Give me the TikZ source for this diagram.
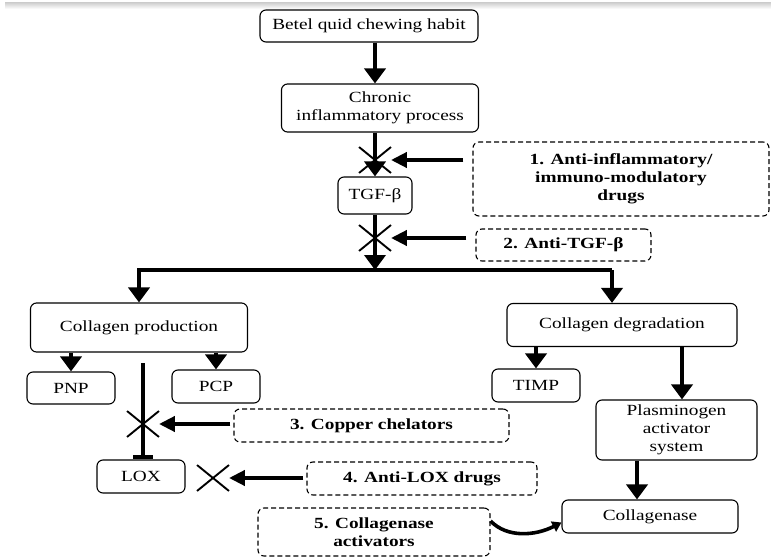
\documentclass[tikz,border=0pt]{standalone}
\usepackage{fontspec}
\setmainfont{Liberation Serif}[FakeStretch=1.245]
\usetikzlibrary{arrows.meta,shapes.misc,calc}
\begin{document}
\begin{tikzpicture}[x=1pt,y=-1pt,
  box/.style={draw, rounded corners=6pt, line width=1.1pt, align=center, inner sep=0pt,
    font=\fontsize{15.5}{18}\selectfont},
  drug/.style={box, dash pattern=on 5pt off 3pt, font=\fontsize{15.5}{18}\selectfont\bfseries},
  arr/.style={line width=4.6pt, -{Triangle[width=21pt,length=15pt]}},
  harr/.style={line width=4pt, -{Triangle[width=15pt,length=16pt]}},
  xmark/.style={cross out, draw, line width=1.9pt, inner sep=0pt, minimum width=30pt, minimum height=24pt},
  tbar/.style={line width=4.6pt, -{Bar[width=20pt]}},
  curvearr/.style={line width=3.6pt, -{Triangle[width=11pt,length=9pt]}}
]
\useasboundingbox (0,0) rectangle (771,559);
\fill[top color=gray!35, bottom color=white] (5,3) rectangle (771,9);

% nodes
\node[box, minimum width=218pt, minimum height=32pt] (betel) at (369,26) {Betel quid chewing habit};
\node[box, minimum width=197pt, minimum height=48pt] (chronic) at (380,108) {Chronic\\inflammatory process};
\node[box, minimum width=74pt, minimum height=37pt] (tgf) at (375,195.5) {TGF-β};
\node[drug, minimum width=296pt, minimum height=74pt] (d1) at (621,179) {1. Anti-inflammatory/\\immuno-modulatory\\drugs};
\node[drug, minimum width=175pt, minimum height=32pt] (d2) at (563.5,245) {2. Anti-TGF-β};
\node[box, minimum width=217pt, minimum height=49pt] (cprod) at (139,327.5) {Collagen production};
\node[box, minimum width=230pt, minimum height=43pt] (cdeg) at (622,325) {Collagen degradation};
\node[box, minimum width=88pt, minimum height=32pt] (pnp) at (71,388) {PNP};
\node[box, minimum width=88pt, minimum height=33pt] (pcp) at (216,386.5) {PCP};
\node[box, minimum width=88pt, minimum height=33pt] (timp) at (536,385.5) {TIMP};
\node[box, minimum width=161pt, minimum height=60pt] (plas) at (676.5,430) {Plasminogen\\activator\\system};
\node[box, minimum width=88pt, minimum height=33pt] (lox) at (141,476.5) {LOX};
\node[drug, minimum width=275pt, minimum height=33pt] (d3) at (371.5,425.5) {3. Copper chelators};
\node[drug, minimum width=230pt, minimum height=33pt] (d4) at (422,478.5) {4. Anti-LOX drugs};
\node[drug, minimum width=232pt, minimum height=48pt] (d5) at (374,532) {5. Collagenase\\activators};
\node[box, minimum width=176pt, minimum height=33pt] (cnase) at (650,516.5) {Collagenase};

% cross marks
\node[xmark] (x1) at (375,160) {};
\node[xmark] (x2) at (375,238) {};
\node[xmark] (x3) at (143,424) {};
\node[xmark] (x4) at (213,478) {};

% helper coordinates
\coordinate (split) at (375,270);
\coordinate (rgt) at (612,270);
\coordinate (tb) at (143,363);
\coordinate (c1) at (682,0);
\coordinate (c2) at (637,0);

% main chain
\draw[arr] (betel.south -| tgf) -- (chronic.north -| tgf);
\draw[arr] (chronic.south -| tgf) -- (tgf.north);
\draw[arr] (tgf.south) -- (split);
\draw[line width=4.6pt] (split) -- (rgt);
\draw[arr] (split) -| (cprod.north);
\draw[arr] (rgt) -- (rgt |- cdeg.north);

% collagen production branch
\draw[arr] (pnp.north |- cprod.south) -- (pnp.north);
\draw[arr] (pcp.north |- cprod.south) -- (pcp.north);
\draw[tbar] (tb) -- (tb |- lox.north);

% collagen degradation branch
\draw[arr] (timp.north |- cdeg.south) -- (timp.north);
\draw[arr] (cdeg.south -| c1) -- (plas.north -| c1);
\draw[arr] (plas.south -| c2) -- (cnase.north -| c2);

% drug arrows
\draw[harr, shorten <=9pt] (x1.east -| d1.west) -- (x1.east);
\draw[harr, shorten <=9pt] (x2.east -| d2.west) -- (x2.east);
\draw[harr, shorten <=3pt] (d3.west |- x3.east) -- (x3.east);
\draw[harr, shorten <=3pt] (d4.west |- x4.east) -- (x4.east);
\draw[curvearr] ($(d5.east)+(0,-11)$) .. controls (507,538) and (535,536) .. ($(cnase.west)+(0,6)$);
\end{tikzpicture}
\end{document}
